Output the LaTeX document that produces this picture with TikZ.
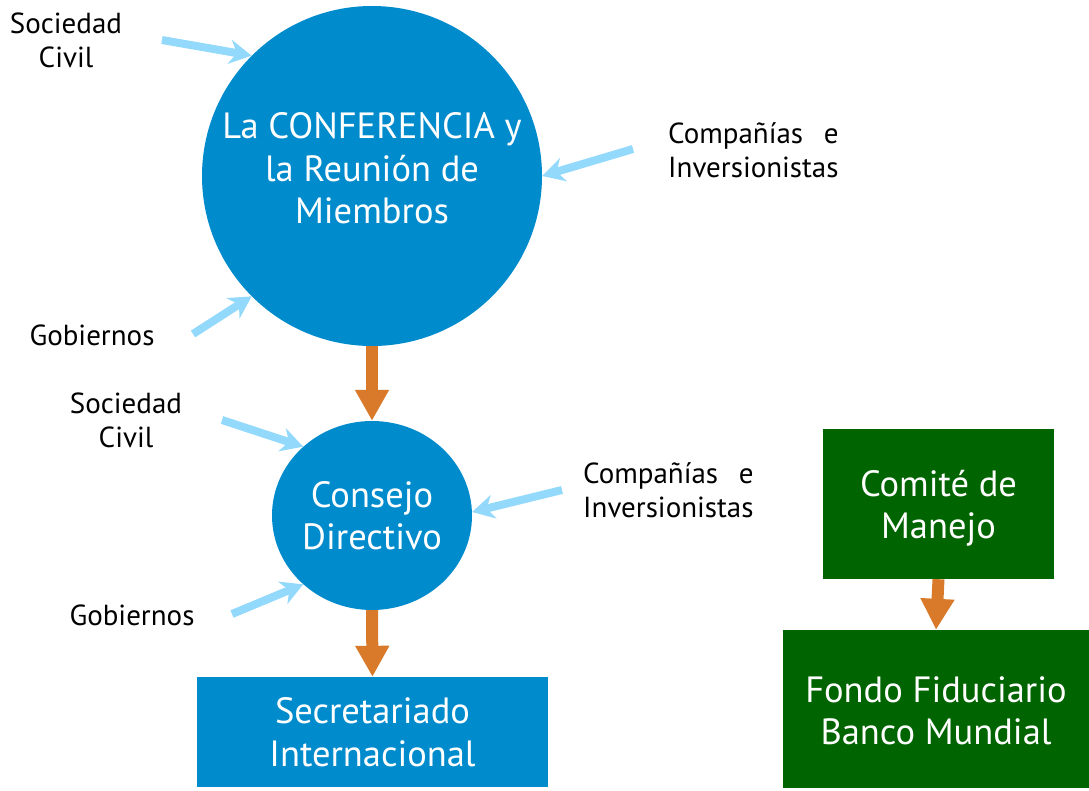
\documentclass[tikz,border=0pt]{standalone}
\usepackage{fontspec}
\setmainfont{PT Sans}
\usetikzlibrary{arrows.meta,shapes.geometric}
\definecolor{bluebg}{RGB}{0,139,204}
\definecolor{greenbg}{RGB}{0,100,0}
\definecolor{orangearr}{RGB}{216,122,42}
\definecolor{lightarr}{RGB}{146,217,252}
\begin{document}
\begin{tikzpicture}[x=1pt,y=-1pt,
  whitetext/.style={text=white, font=\fontsize{36.5}{42.5}\selectfont, align=center, inner sep=0pt},
  bluecircle/.style={whitetext, circle, fill=bluebg, minimum size=340pt},
  blueellipse/.style={whitetext, ellipse, fill=bluebg, minimum width=200pt, minimum height=189pt},
  bluebox/.style={whitetext, rectangle, fill=bluebg},
  greenbox/.style={whitetext, rectangle, fill=greenbg},
  lbl/.style={text=black, font=\fontsize{29}{34}\selectfont, inner sep=0pt},
  orangearrow/.style={draw=orangearr, line width=12pt, -{Triangle[length=31pt,width=32pt]}, orangearr},
  lightarrow/.style={draw=lightarr, line width=8pt, -{Stealth[length=22pt,width=24pt,inset=7pt]}, lightarr}
]
\useasboundingbox (0,0) rectangle (1089,790);

\node[bluecircle] (c1) at (372,176) {};
\node[whitetext] (c1txt) at (372,168.5) {La CONFERENCIA y\\la Reunión de\\Miembros};
\node[blueellipse] (c2) at (372,515.5) {Consejo\\Directivo};
\node[bluebox, minimum width=351pt, minimum height=110pt] (sec) at (372.5,732) {Secretariado\\Internacional};
\node[greenbox, minimum width=231pt, minimum height=150pt] (com) at (938.5,504) {};
\node[whitetext] (comtxt) at (938.5,508) {Comité de\\Manejo};
\node[greenbox, minimum width=306pt, minimum height=158pt] (fon) at (936,709) {};
\node[whitetext] (fontxt) at (936,711) {Fondo Fiduciario\\Banco Mundial};

\node[lbl, align=center] (sc1) at (66,40) {Sociedad\\Civil};
\node[lbl, align=left, anchor=west] (ci1) at (668,150) {\setbox0\hbox{Inversionistas}\makebox[\wd0][s]{Compañías e}\\Inversionistas};
\node[lbl] (go1) at (92,335) {Gobiernos};
\node[lbl, align=center] (sc2) at (126,420) {Sociedad\\Civil};
\node[lbl, align=left, anchor=west] (ci2) at (583,490) {\setbox0\hbox{Inversionistas}\makebox[\wd0][s]{Compañías e}\\Inversionistas};
\node[lbl] (go2) at (132,615) {Gobiernos};

\coordinate (s1) at (162,40);
\coordinate (s2) at (633,149);
\coordinate (s3) at (193,334);
\coordinate (s4) at (222,420);
\coordinate (s5) at (562,490);
\coordinate (s6) at (232,614);

\draw[lightarrow] (s1) -- (c1.135);
\draw[lightarrow] (s2) -- (c1.0);
\draw[lightarrow] (s3) -- (c1.225);
\draw[lightarrow] (s4) -- (c2.135);
\draw[lightarrow] (s5) -- (c2.2);
\draw[lightarrow] (s6) -- (c2.225);

\draw[orangearrow] (c1.south) -- (c2.north);
\draw[orangearrow] (c2.south) -- (sec.north);
\draw[orangearrow] (com.south) -- (fon.north);
\end{tikzpicture}
\end{document}
